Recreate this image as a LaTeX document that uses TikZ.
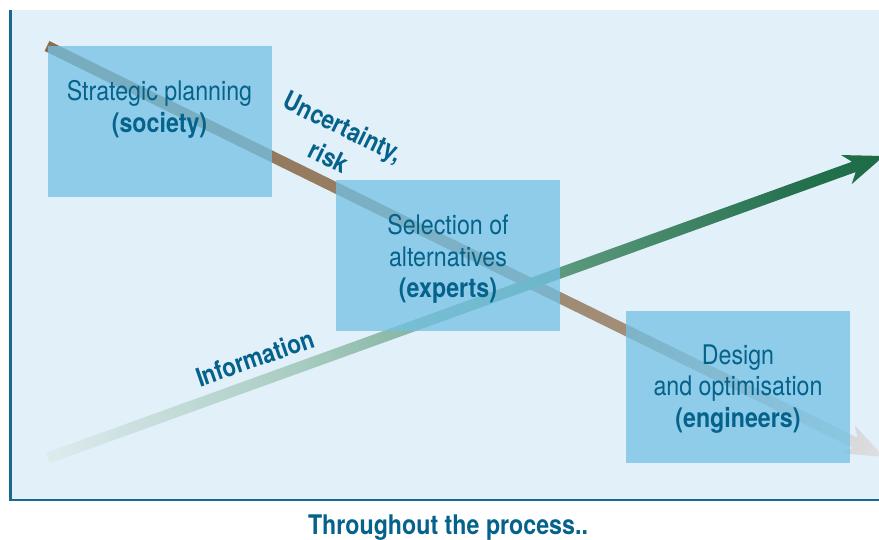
\documentclass[tikz,border=0pt]{standalone}
\usepackage{fontspec}
\setmainfont{TeX Gyre Heros}[FakeStretch=0.86]
\usetikzlibrary{calc}
\definecolor{panelbg}{HTML}{E2F0FA}
\definecolor{axisblue}{HTML}{176990}
\definecolor{boxblue}{HTML}{72C1E5}
\definecolor{txtblue}{HTML}{05628A}
\definecolor{brA}{HTML}{8A6D4D}
\definecolor{brB}{HTML}{A28E78}
\definecolor{brC}{HTML}{C0B8B0}
\definecolor{brD}{HTML}{D7D7D8}
\definecolor{brE}{HTML}{DEDFE0}
\definecolor{grA}{HTML}{DEEBEE}
\definecolor{grB}{HTML}{A8CCC1}
\definecolor{grC}{HTML}{5F9B80}
\definecolor{grD}{HTML}{24714E}
\definecolor{grE}{HTML}{1D6B47}
\pgfdeclarehorizontalshading{brownfade}{100bp}{color(0bp)=(brA); color(25bp)=(brA); color(59.5bp)=(brB); color(67.5bp)=(brC); color(72.5bp)=(brD); color(75bp)=(brE); color(100bp)=(brE)}
\pgfdeclarehorizontalshading{greenrise}{100bp}{color(0bp)=(grA); color(25bp)=(grA); color(40bp)=(grB); color(55bp)=(grC); color(70bp)=(grD); color(75bp)=(grE); color(100bp)=(grE)}
\newcommand\fadearrow[3]{%
  \pgfpointdiff{\pgfpointanchor{#1}{center}}{\pgfpointanchor{#2}{center}}%
  \pgfgetlastxy\faX\faY
  \pgfmathsetmacro\faAng{atan2(\faY,\faX)}%
  \pgfmathsetmacro\faLen{veclen(\faX,\faY)}%
  \pgfmathsetmacro\faJ{\faLen-32}%
  \pgfmathsetmacro\faC{\faLen-40}%
  \begin{scope}[transform canvas={shift={(#1)},rotate=\faAng}]
    \shade[shading=#3] (0pt,5.5pt) -- (\faJ pt,5.5pt) -- (\faC pt,15.5pt) -- (\faLen pt,0pt)
      -- (\faC pt,-15.5pt) -- (\faJ pt,-5.5pt) -- (0pt,-5.5pt) -- cycle;
  \end{scope}}
\begin{document}
\begin{tikzpicture}[x=1pt,y=-1pt,
  box/.style={rectangle, fill=boxblue, fill opacity=0.75, minimum width=224pt, minimum height=151pt, inner sep=0pt},
  boxtext/.style={text=txtblue, align=center, font=\fontsize{27}{31.5}\selectfont, inner sep=0pt},
  tag/.style={text=txtblue, font=\fontsize{26}{30}\selectfont\bfseries, inner sep=0pt},
  caption/.style={text=txtblue, font=\fontsize{27}{30}\selectfont\bfseries, inner sep=0pt, anchor=base}]
\useasboundingbox (0,0) rectangle (879,540);
\clip (0,0) rectangle (879,540);
% panel and axes
\fill[panelbg] (10,10) rectangle (879,500);
\draw[axisblue, line width=2.5pt] (10.5,10) -- (10.5,500) -- (879,500);
% arrows
\coordinate (bs) at (47,46);
\coordinate (be) at (884,457);
\coordinate (gs) at (48,458);
\coordinate (ge) at (884,156);
\fadearrow{bs}{be}{brownfade}
\fadearrow{gs}{ge}{greenrise}
% boxes
\node[box] (b1) at (159.5,121.5) {};
\node[box] (b2) at (448,256) {};
\node[box] (b3) at (738,387) {};
% box texts
\node[boxtext] (t1) at (159.5,109.5) {Strategic planning\\\textbf{(society)}};
\node[boxtext] (t2) at (448,259) {Selection of\\alternatives\\\textbf{(experts)}};
\node[boxtext] (t3) at (738,389) {Design\\and optimisation\\\textbf{(engineers)}};
% arrow labels
\node[tag, rotate=-26] (lu) at (342,129) {Uncertainty,};
\node[tag, rotate=-26] (lr) at (329,157) {risk};
\node[tag, rotate=19] (li) at (255,358) {Information};
% caption
\node[caption] (cap) at (448,534.5) {Throughout the process..};
\end{tikzpicture}
\end{document}
